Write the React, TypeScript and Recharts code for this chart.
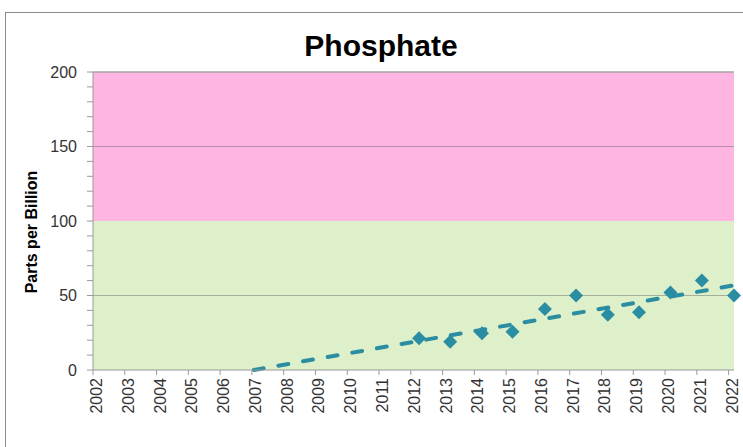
import {
  ComposedChart,
  Scatter,
  Line,
  XAxis,
  YAxis,
  ReferenceArea,
  ReferenceLine,
} from "recharts";

// sample dates (decimal years) and phosphate readings in ppb
const sampleYears = [2012.26, 2013.24, 2014.24, 2015.2, 2016.22, 2017.2, 2018.2, 2019.18, 2020.17, 2021.16, 2022.17];
const phosphate = [21.3, 19, 24.6, 25.7, 41, 50, 37, 38.7, 52, 60, 50];

// linear trendline end points as drawn
const trendYears = [2007.06, 2022.17];
const trendValues = [0, 56.8];

const yearTicks = [2002, 2003, 2004, 2005, 2006, 2007, 2008, 2009, 2010, 2011, 2012, 2013, 2014, 2015, 2016, 2017, 2018, 2019, 2020, 2021, 2022];
const ppbTicks = [0, 10, 20, 30, 40, 50, 60, 70, 80, 90, 100, 110, 120, 130, 140, 150, 160, 170, 180, 190, 200];

const points = sampleYears.map((x, i) => ({ x, y: phosphate[i] }));
const trend = trendYears.map((x, i) => ({ x, y: trendValues[i] }));

const TEAL = "#2A8DA2";
const FONT = "'Liberation Sans', Arial, sans-serif";

const Diamond = (props: any) => {
  const { cx, cy } = props;
  const r = 7;
  return (
    <polygon
      points={`${cx},${cy - r} ${cx + r},${cy} ${cx},${cy + r} ${cx - r},${cy}`}
      fill={TEAL}
    />
  );
};

const XTick = (props: any) => {
  const { x, y, payload } = props;
  return (
    <text
      x={x}
      y={y}
      dy={9}
      transform={`rotate(-90 ${x} ${y})`}
      textAnchor="end"
      fontSize={16}
      fontFamily={FONT}
      fill="#333"
    >
      {payload.value}
    </text>
  );
};

const YTick = (props: any) => {
  const { x, y, payload } = props;
  if (payload.value % 50 !== 0) return <g />;
  return (
    <text x={x} y={y} dy={5.5} textAnchor="end" fontSize={16} fontFamily={FONT} fill="#333">
      {payload.value}
    </text>
  );
};

const App = () => {
  return (
    <div style={{ position: "absolute", left: 0, top: 0, width: 743, height: 447, overflow: "hidden", background: "#fff" }}>
      <div
        style={{
          position: "absolute",
          left: 5,
          top: 12,
          width: 800,
          height: 500,
          border: "1px solid #8c8c8c",
        }}
      />
      <div
        style={{
          position: "absolute",
          left: 0,
          top: 31,
          width: 762,
          textAlign: "center",
          fontFamily: FONT,
          fontWeight: "bold",
          fontSize: 30,
          lineHeight: "30px",
          color: "#000",
        }}
      >
        Phosphate
      </div>
      <div style={{ position: "absolute", left: 0, top: 0 }}>
        <ComposedChart width={743} height={447} margin={{ top: 72, right: 9, bottom: 0, left: 33 }}>
          <XAxis
            type="number"
            dataKey="x"
            domain={[2002, 2022.17]}
            ticks={yearTicks}
            interval={0}
            height={77}
            tickSize={5}
            tickMargin={3}
            stroke="#9a9a9a"
            tick={<XTick />}
          />
          <YAxis
            type="number"
            dataKey="y"
            domain={[0, 200]}
            ticks={ppbTicks}
            interval={0}
            width={60}
            tickSize={6}
            tickMargin={10}
            stroke="#9a9a9a"
            tick={<YTick />}
            label={{
              content: () => (
                <text
                  x={37}
                  y={232}
                  transform="rotate(-90 37 232)"
                  textAnchor="middle"
                  fontSize={16}
                  fontWeight="bold"
                  fontFamily={FONT}
                  fill="#000"
                >
                  Parts per Billion
                </text>
              ),
            }}
          />
          <ReferenceArea y1={0} y2={100} fill="#DEF0CA" fillOpacity={1} stroke="none" />
          <ReferenceArea y1={100} y2={200} fill="#FFB5E1" fillOpacity={1} stroke="none" />
          <ReferenceLine y={50} stroke="#606060" strokeOpacity={0.45} />
          <ReferenceLine y={150} stroke="#606060" strokeOpacity={0.45} />
          <ReferenceLine y={200} stroke="#a6a6a6" strokeWidth={1.5} />
          <Scatter data={points} fill={TEAL} shape={<Diamond />} isAnimationActive={false} />
          <Line
            data={trend}
            dataKey="y"
            type="linear"
            stroke={TEAL}
            strokeWidth={4}
            strokeDasharray="10 15"
            strokeLinecap="round"
            dot={false}
            activeDot={false}
            isAnimationActive={false}
          />
        </ComposedChart>
      </div>
    </div>
  );
};

export default App;
